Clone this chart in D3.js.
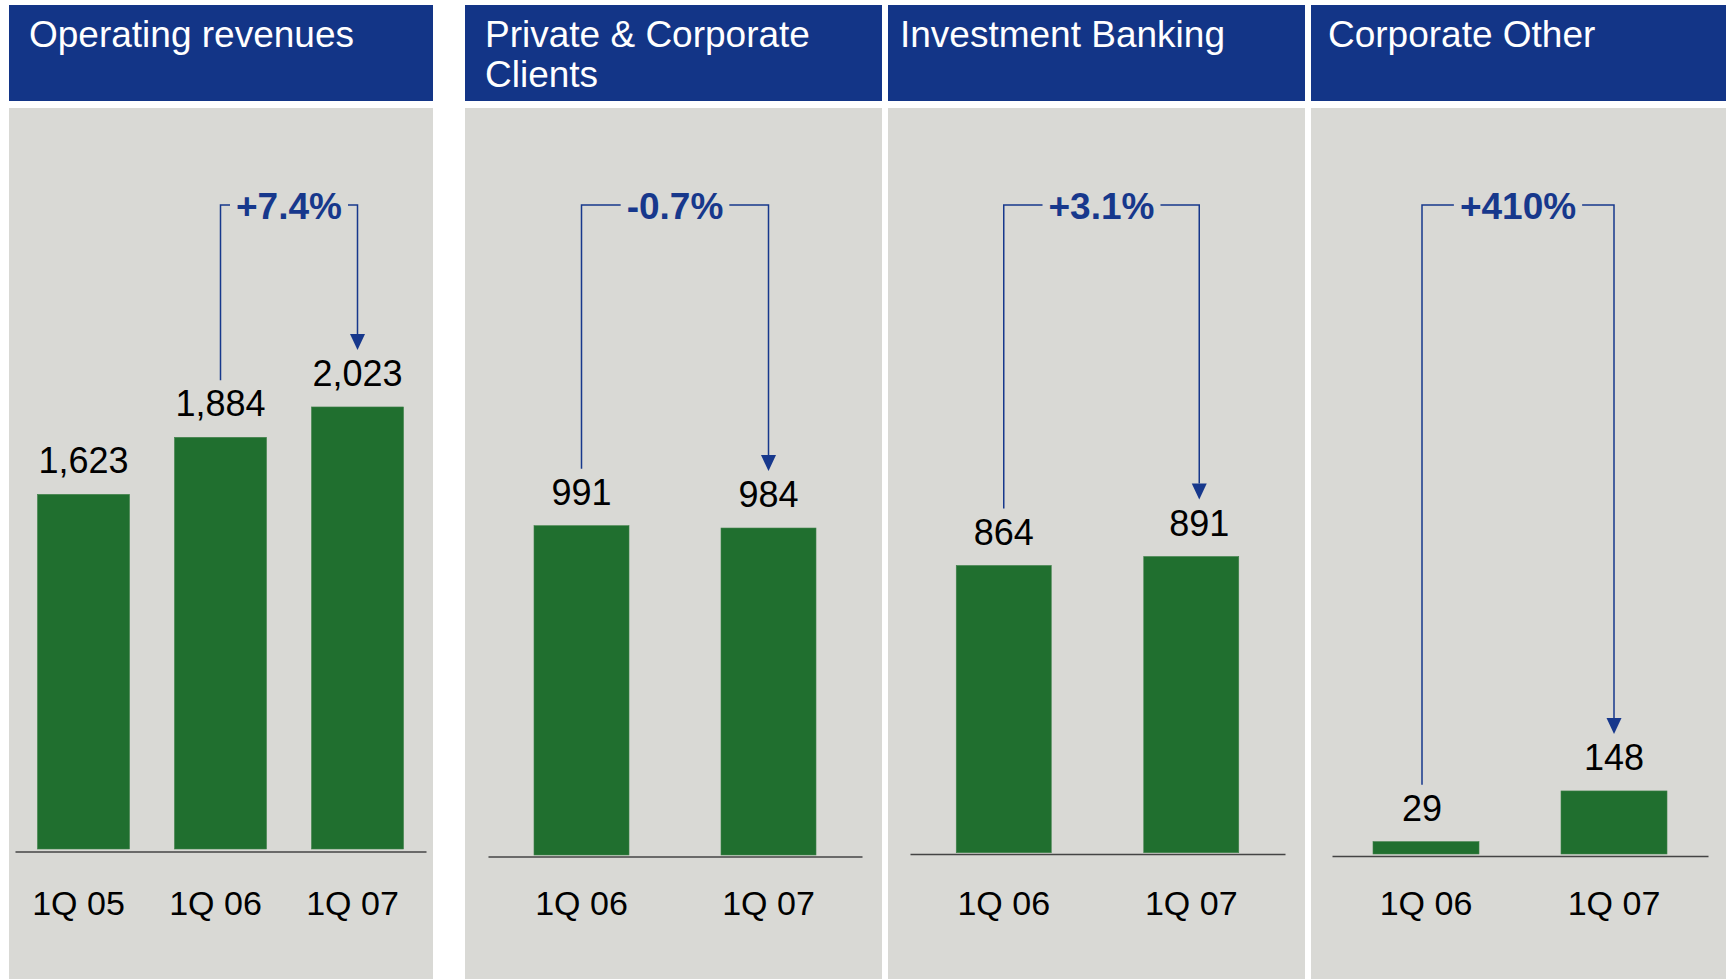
<!DOCTYPE html>
<html>
<head>
<meta charset="utf-8">
<script src="https://cdn.jsdelivr.net/npm/d3@7"></script>
<style>
  html, body { margin: 0; padding: 0; background: #ffffff; }
  svg { display: block; }
  text { font-family: "Liberation Sans", Arial, sans-serif; }
</style>
</head>
<body>
<svg id="chart" width="1728" height="979"></svg>
<script>
// ---------------- DATA ----------------
const panelTitles = [
  ["Operating revenues"],
  ["Private & Corporate", "Clients"],
  ["Investment Banking"],
  ["Corporate Other"]
];
const opRevCategories = ["1Q 05", "1Q 06", "1Q 07"];
const opRevValues     = [1623, 1884, 2023];
const pccCategories   = ["1Q 06", "1Q 07"];
const pccValues       = [991, 984];
const ibCategories    = ["1Q 06", "1Q 07"];
const ibValues        = [864, 891];
const coCategories    = ["1Q 06", "1Q 07"];
const coValues        = [29, 148];
const changeLabels    = ["+7.4%", "-0.7%", "+3.1%", "+410%"];
const changeFromIndex = [1, 0, 0, 0];   // bracket starts at this category, ends at the last

// ---------------- LAYOUT / STYLE ----------------
const layout = [
  { x0: 9,    x1: 433,  axis: [15, 426],   zero: 849,   axisY: 851.5, k: 0.2185, barW: 92,  titleDx: 20, labelDx: [0, 0, 0], catDx: -5 },
  { x0: 465,  x1: 882,  axis: [488, 862],  zero: 855,   axisY: 856.5, k: 0.3323, barW: 95,  titleDx: 20, labelDx: [0, 0],    catDx: 0 },
  { x0: 888,  x1: 1305, axis: [910, 1285], zero: 852.7, axisY: 854,   k: 0.3324, barW: 95,  titleDx: 12, labelDx: [0, 8],    catDx: 0 },
  { x0: 1311, x1: 1726, axis: [1332, 1708],zero: 854,   axisY: 856,   k: 0.426,  barW: 106, titleDx: 17, labelDx: [-4, 0],   catDx: 0 }
];
const headerTop = 5, headerBottom = 101, bodyTop = 108, bodyBottom = 979;
const COLORS = { header: "#133587", body: "#d9d9d5", bar: "#206f2f", barEdge: "#3f8049",
                 accent: "#17388c", text: "#000000", axis: "#444444" };
const bracketY = 205;

const panelsData = [
  { cats: opRevCategories, vals: opRevValues },
  { cats: pccCategories,   vals: pccValues },
  { cats: ibCategories,    vals: ibValues },
  { cats: coCategories,    vals: coValues }
];

const svg = d3.select("#chart");
const fmt = d3.format(",");

panelsData.forEach((pd, i) => {
  const L = layout[i];
  const g = svg.append("g");

  // background panels
  g.append("rect").attr("x", L.x0).attr("y", headerTop)
    .attr("width", L.x1 - L.x0).attr("height", headerBottom - headerTop)
    .attr("fill", COLORS.header);
  g.append("rect").attr("x", L.x0).attr("y", bodyTop)
    .attr("width", L.x1 - L.x0).attr("height", bodyBottom - bodyTop)
    .attr("fill", COLORS.body);

  // title
  const t = g.append("text").attr("x", L.x0 + L.titleDx).attr("y", 47)
    .attr("fill", "#ffffff").attr("font-size", 37);
  panelTitles[i].forEach((line, j) => {
    t.append("tspan").attr("x", L.x0 + L.titleDx).attr("dy", j === 0 ? 0 : 40).text(line);
  });

  // scales
  const x = d3.scaleBand().domain(pd.cats).range(L.axis).padding(0);
  const y = d3.scaleLinear().domain([0, 1000]).range([L.zero, L.zero - 1000 * L.k]);
  const cx = c => x(c) + x.bandwidth() / 2;

  // bars
  g.selectAll("rect.bar").data(pd.vals).join("rect")
    .attr("class", "bar")
    .attr("x", (d, j) => cx(pd.cats[j]) - L.barW / 2)
    .attr("width", L.barW)
    .attr("y", d => y(d))
    .attr("height", d => y(0) - y(d))
    .attr("fill", COLORS.bar)
    .attr("stroke", COLORS.barEdge).attr("stroke-width", 0.6);

  // axis baseline
  const axis = d3.axisBottom(x).tickSize(0).tickPadding(0).tickFormat("");
  const ag = g.append("g").attr("transform", `translate(0,${L.axisY})`).call(axis);
  ag.select(".domain").attr("stroke", COLORS.axis).attr("stroke-width", 1.6);

  // category labels
  g.selectAll("text.cat").data(pd.cats).join("text")
    .attr("class", "cat")
    .attr("x", c => cx(c) + L.catDx).attr("y", 915)
    .attr("text-anchor", "middle").attr("font-size", 34).attr("fill", COLORS.text)
    .text(c => c);

  // value labels
  g.selectAll("text.val").data(pd.vals).join("text")
    .attr("class", "val")
    .attr("x", (d, j) => cx(pd.cats[j]) + L.labelDx[j]).attr("y", d => y(d) - 21)
    .attr("text-anchor", "middle").attr("font-size", 36).attr("fill", COLORS.text)
    .text(d => fmt(d));

  // change bracket
  const a = changeFromIndex[i], b = pd.vals.length - 1;
  const xa = cx(pd.cats[a]) + L.labelDx[a];
  const xb = cx(pd.cats[b]) + L.labelDx[b];
  const legA = y(pd.vals[a]) - 57;
  const tip = y(pd.vals[b]) - 57;
  const headH = 16, headW = 15;

  const label = g.append("text")
    .attr("x", (xa + xb) / 2).attr("y", bracketY + 14)
    .attr("text-anchor", "middle").attr("font-size", 37).attr("font-weight", "bold")
    .attr("fill", COLORS.accent).text(changeLabels[i]);
  const tw = label.node().getComputedTextLength();
  const gap = 6;
  const tl = (xa + xb) / 2 - tw / 2 - gap, tr = (xa + xb) / 2 + tw / 2 + gap;

  const line = d3.line();
  g.append("path").attr("d", line([[xa, legA], [xa, bracketY], [tl, bracketY]]))
    .attr("fill", "none").attr("stroke", COLORS.accent).attr("stroke-width", 1.5);
  g.append("path").attr("d", line([[tr, bracketY], [xb, bracketY], [xb, tip - headH]]))
    .attr("fill", "none").attr("stroke", COLORS.accent).attr("stroke-width", 1.5);
  g.append("path").attr("d", line([[xb - headW / 2, tip - headH], [xb + headW / 2, tip - headH], [xb, tip]]) + "Z")
    .attr("fill", COLORS.accent);
});
</script>
</body>
</html>
